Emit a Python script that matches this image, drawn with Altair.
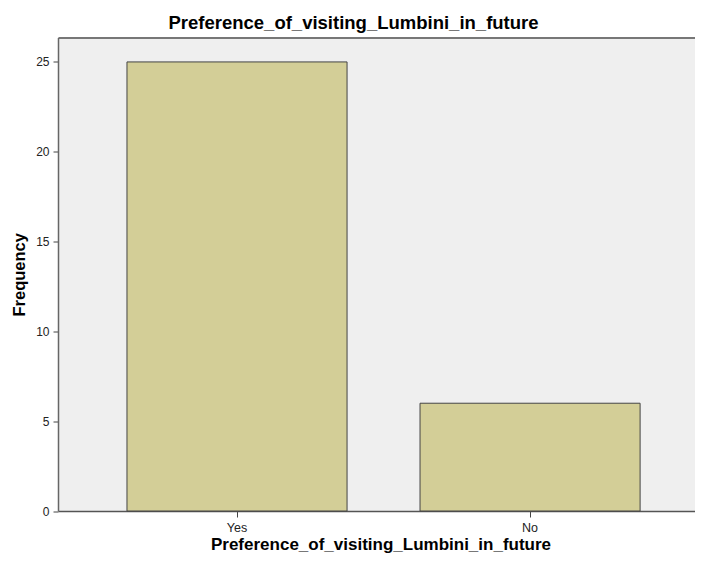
import altair as alt
import pandas as pd

categories = ["Yes", "No"]
frequencies = [25, 6]

df = pd.DataFrame({"cat": categories, "freq": frequencies})

FONT = "Liberation Sans"

xscale = alt.Scale(domain=categories, paddingInner=0.249, paddingOuter=0.225, align=0.523)
yscale = alt.Scale(domain=[0, 26.36], nice=False, zero=True)

bars = alt.Chart(df).mark_bar(
    fill="#d3ce97", stroke="#444444", strokeWidth=1
).encode(
    x=alt.X("cat:N", scale=xscale, sort=categories,
            axis=alt.Axis(title="Preference_of_visiting_Lumbini_in_future",
                          labelAngle=0, labelFontSize=12.5, labelColor="#222222",
                          labelFont=FONT, labelPadding=4,
                          tickSize=6, tickColor="#444444", domainColor="#555555",
                          domainWidth=1.5, titleFont=FONT, titleFontSize=17,
                          titleFontWeight="bold", titleColor="#000000",
                          titlePadding=3)),
    y=alt.Y("freq:Q", scale=yscale,
            axis=alt.Axis(title="Frequency", values=[0, 5, 10, 15, 20, 25],
                          grid=False, labelFontSize=12, labelColor="#222222",
                          labelFont=FONT, labelPadding=4,
                          tickSize=5, tickColor="#444444", domainColor="#666666",
                          domainWidth=1.5, titleFont=FONT, titleFontSize=16.5,
                          titleFontWeight="bold", titleColor="#000000",
                          titlePadding=8)),
)

top = alt.Chart(df).mark_bar(opacity=0).encode(
    x=alt.X("cat:N", scale=xscale, sort=categories,
            axis=alt.Axis(orient="top", labels=False, ticks=False, title=None,
                          domainColor="#777777", domainWidth=2)),
)

chart = alt.layer(bars, top).resolve_axis(x="independent").properties(
    width=645,
    height=473.5,
    autosize=alt.AutoSizeParams(type="none"),
    padding={"left": 50, "top": 29.5, "right": -8, "bottom": 45},
    background="white",
    title=alt.TitleParams(
        "Preference_of_visiting_Lumbini_in_future",
        font=FONT, fontSize=18.5, fontWeight="bold", color="#000000",
        anchor="middle", dx=-27, offset=5,
    ),
).configure_view(
    fill="#efefef", stroke=None
)

chart.save("out.html", embed_options={"renderer": "svg", "actions": False})
